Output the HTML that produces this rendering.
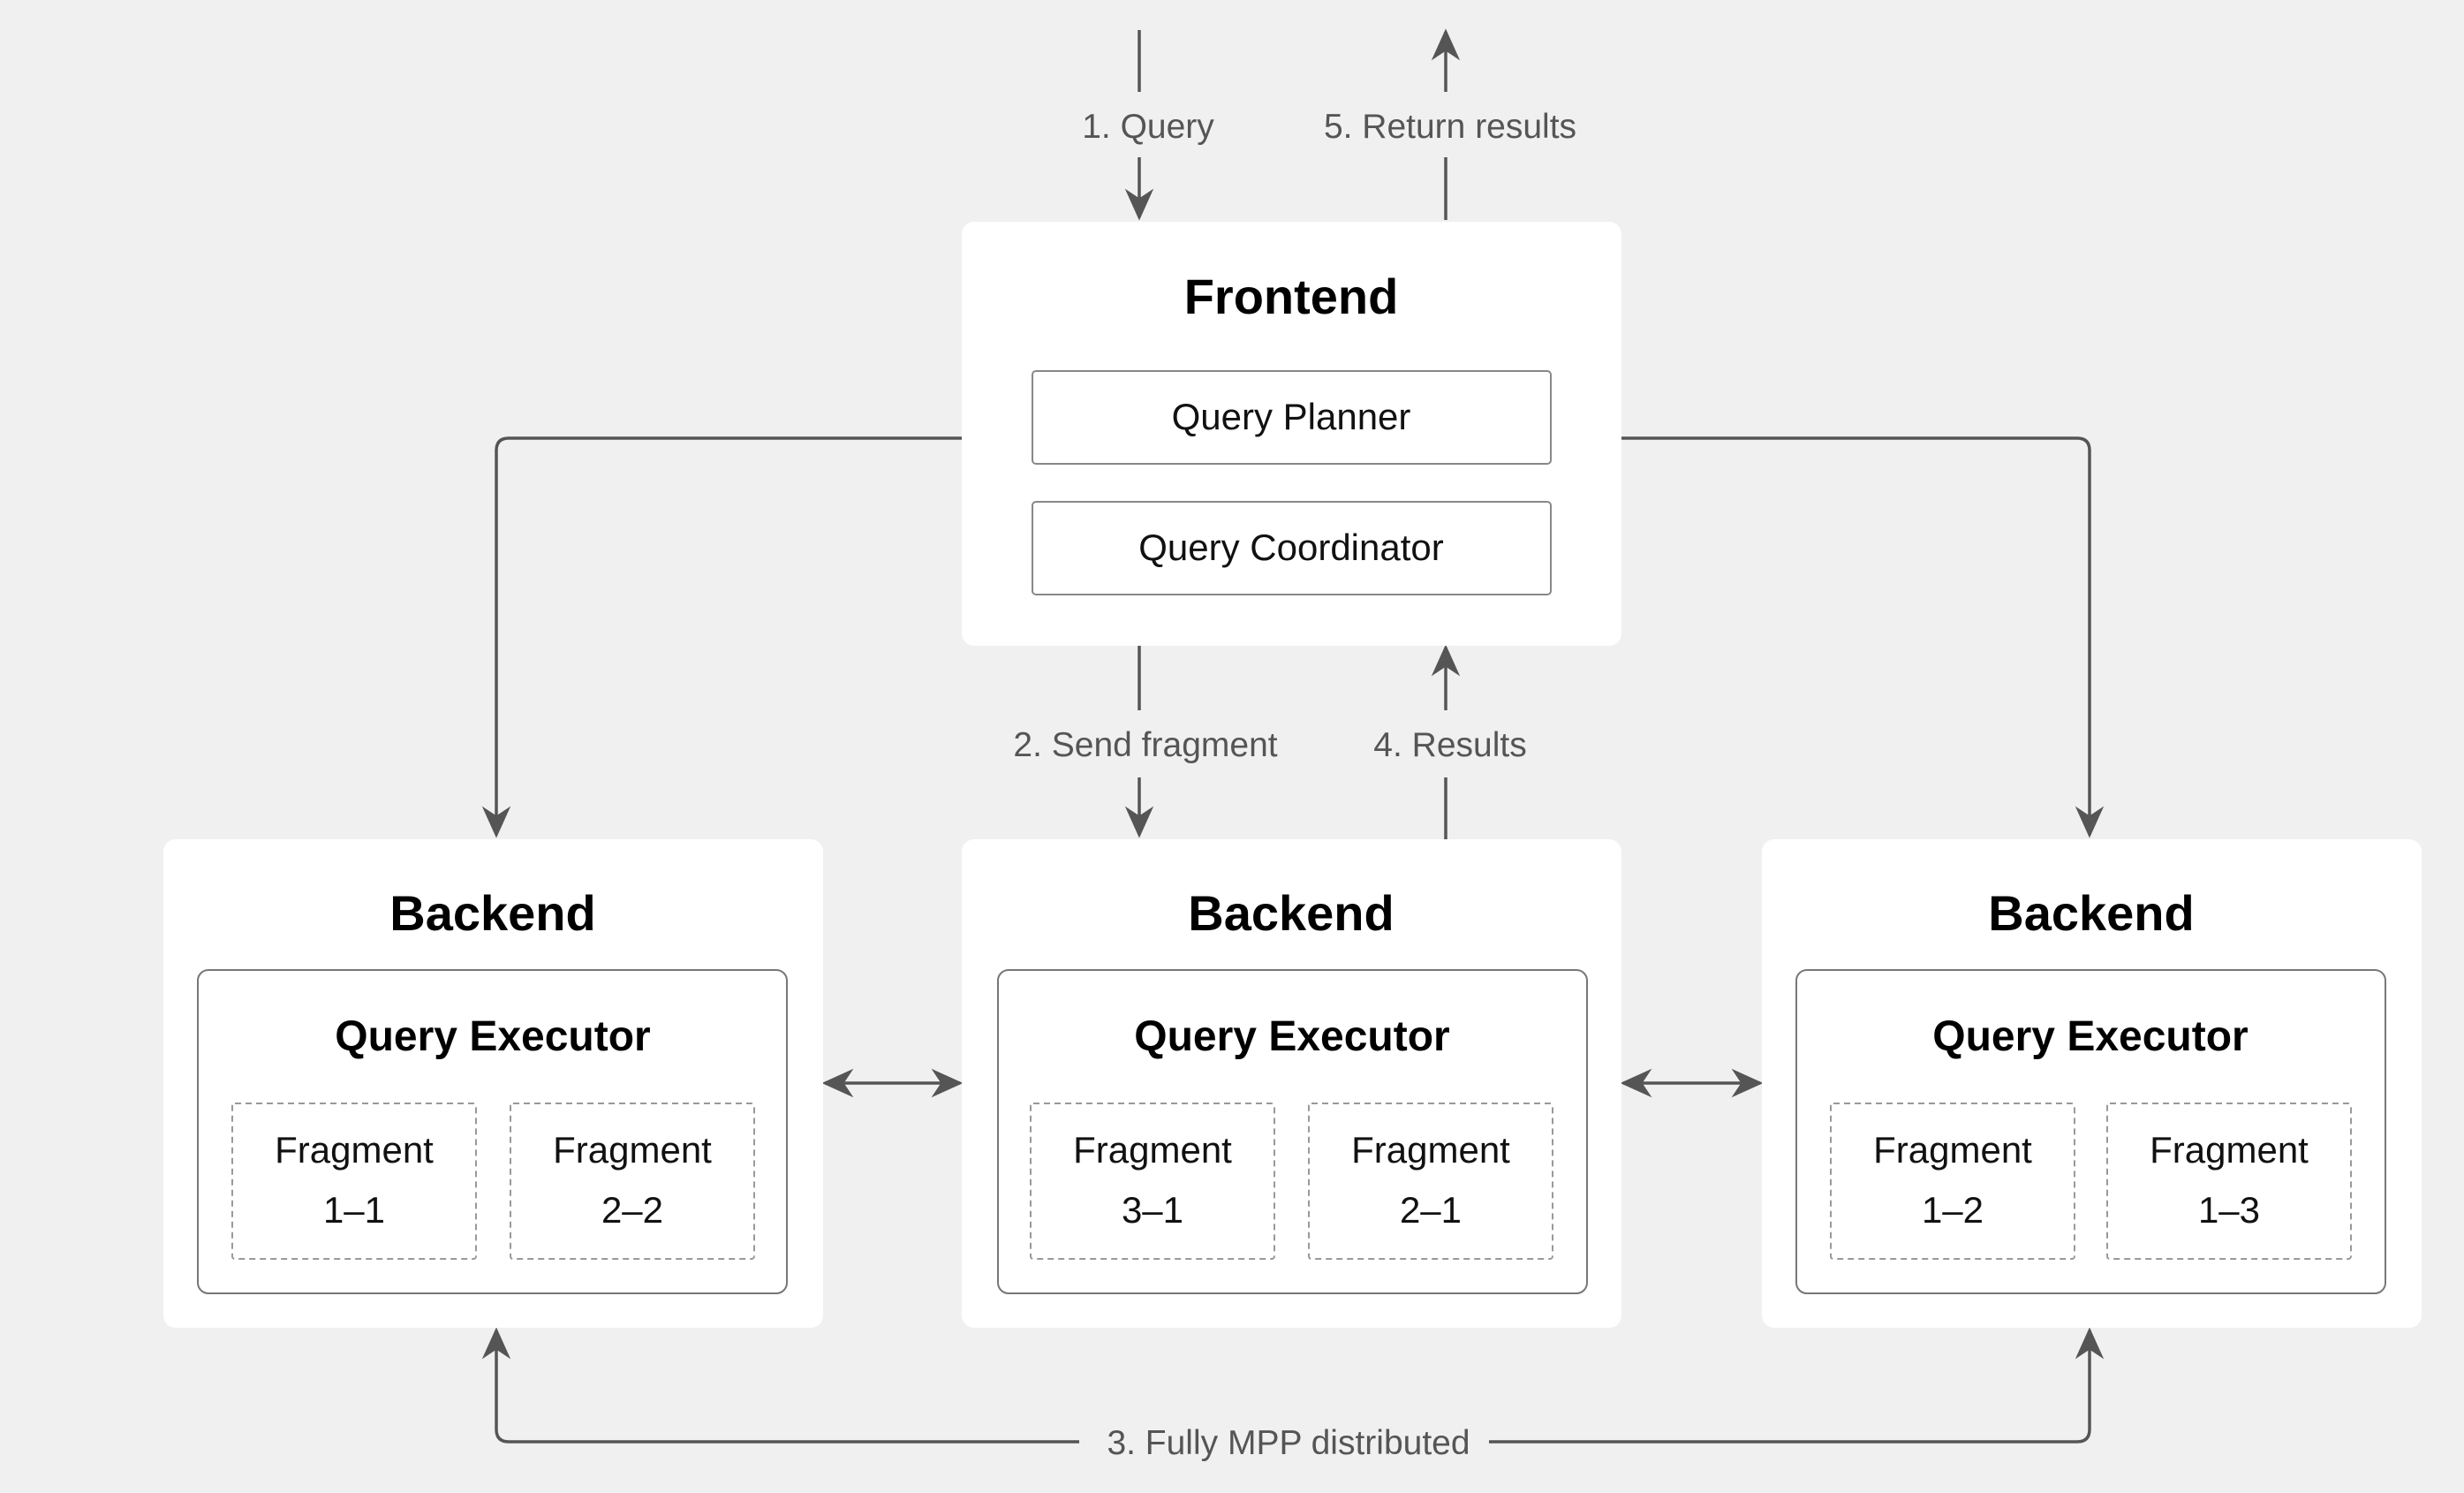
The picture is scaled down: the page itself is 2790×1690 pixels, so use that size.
<!DOCTYPE html>
<html><head><meta charset="utf-8"><style>
html,body{margin:0;padding:0;background:#f0f0f0;}
svg{display:block;}
text{font-family:"Liberation Sans","DejaVu Sans",sans-serif;}
</style></head><body>
<svg width="2790" height="1690" viewBox="0 0 2790 1690" xmlns="http://www.w3.org/2000/svg">
<defs>
<marker id="ah" viewBox="0 0 20 20" refX="18" refY="10" markerWidth="36" markerHeight="36" markerUnits="userSpaceOnUse" orient="auto-start-reverse">
<path d="M0,1 L20,10 L0,19 L6,10 Z" fill="#555"/>
</marker>
</defs>
<rect width="2790" height="1690" fill="#f0f0f0"/>
<g stroke="#555" stroke-width="3.5" fill="none">
<line x1="1290" y1="34" x2="1290" y2="104"/>
<line x1="1290" y1="178" x2="1290" y2="246" marker-end="url(#ah)"/>
<line x1="1637" y1="249" x2="1637" y2="178"/>
<line x1="1637" y1="104" x2="1637" y2="36" marker-end="url(#ah)"/>
<line x1="1290" y1="731" x2="1290" y2="804"/>
<line x1="1290" y1="880" x2="1290" y2="945" marker-end="url(#ah)"/>
<line x1="1637" y1="950" x2="1637" y2="880"/>
<line x1="1637" y1="804" x2="1637" y2="733" marker-end="url(#ah)"/>
<path d="M1089,496 L576,496 Q562,496 562,510 L562,945" marker-end="url(#ah)"/>
<path d="M1836,496 L2352,496 Q2366,496 2366,510 L2366,945" marker-end="url(#ah)"/>
<line x1="934" y1="1226" x2="1087" y2="1226" marker-start="url(#ah)" marker-end="url(#ah)"/>
<line x1="1838" y1="1226" x2="1993" y2="1226" marker-start="url(#ah)" marker-end="url(#ah)"/>
<path d="M1222,1632 L576,1632 Q562,1632 562,1618 L562,1506" marker-end="url(#ah)"/>
<path d="M1686,1632 L2352,1632 Q2366,1632 2366,1618 L2366,1506" marker-end="url(#ah)"/>
</g>
<g fill="#555" font-size="39" text-anchor="middle">
<text x="1300" y="156">1. Query</text>
<text x="1642" y="156">5. Return results</text>
<text x="1297" y="856">2. Send fragment</text>
<text x="1642" y="856">4. Results</text>
<text x="1459" y="1646">3. Fully MPP distributed</text>
</g>
<rect x="1089" y="251" width="747" height="480" rx="14" fill="#fff"/>
<text x="1462" y="355" font-size="56" font-weight="bold" text-anchor="middle" fill="#000">Frontend</text>
<rect x="1169" y="420" width="587" height="105" rx="4" fill="#fff" stroke="#888" stroke-width="2"/>
<text x="1462" y="486" font-size="42" text-anchor="middle" fill="#111">Query Planner</text>
<rect x="1169" y="568" width="587" height="105" rx="4" fill="#fff" stroke="#888" stroke-width="2"/>
<text x="1462" y="634" font-size="42" text-anchor="middle" fill="#111">Query Coordinator</text>
<g>
<rect x="185" y="950" width="747" height="553" rx="14" fill="#fff"/>
<rect x="1089" y="950" width="747" height="553" rx="14" fill="#fff"/>
<rect x="1995" y="950" width="747" height="553" rx="14" fill="#fff"/>
</g>
<g font-size="56" font-weight="bold" text-anchor="middle" fill="#000">
<text x="558" y="1053">Backend</text>
<text x="1462" y="1053">Backend</text>
<text x="2368" y="1053">Backend</text>
</g>
<g fill="none" stroke="#777" stroke-width="2">
<rect x="224" y="1098" width="667" height="366" rx="12"/>
<rect x="1130" y="1098" width="667" height="366" rx="12"/>
<rect x="2034" y="1098" width="667" height="366" rx="12"/>
</g>
<g font-size="48" font-weight="bold" text-anchor="middle" fill="#000">
<text x="558" y="1189">Query Executor</text>
<text x="1463" y="1189">Query Executor</text>
<text x="2367" y="1189">Query Executor</text>
</g>
<g fill="none" stroke="#999" stroke-width="2" stroke-dasharray="7,5">
<rect x="263" y="1249" width="276" height="176" rx="3"/>
<rect x="578" y="1249" width="276" height="176" rx="3"/>
<rect x="1167" y="1249" width="276" height="176" rx="3"/>
<rect x="1482" y="1249" width="276" height="176" rx="3"/>
<rect x="2073" y="1249" width="276" height="176" rx="3"/>
<rect x="2386" y="1249" width="276" height="176" rx="3"/>
</g>
<g font-size="42" text-anchor="middle" fill="#111">
<text x="401" y="1316">Fragment</text><text x="401" y="1384">1–1</text>
<text x="716" y="1316">Fragment</text><text x="716" y="1384">2–2</text>
<text x="1305" y="1316">Fragment</text><text x="1305" y="1384">3–1</text>
<text x="1620" y="1316">Fragment</text><text x="1620" y="1384">2–1</text>
<text x="2211" y="1316">Fragment</text><text x="2211" y="1384">1–2</text>
<text x="2524" y="1316">Fragment</text><text x="2524" y="1384">1–3</text>
</g>
</svg>
</body></html>
